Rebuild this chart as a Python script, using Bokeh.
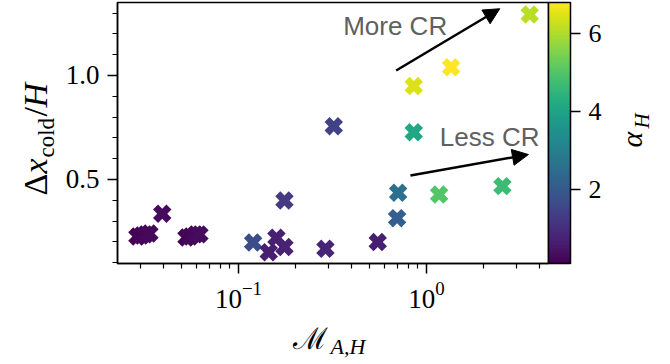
from math import pi

from bokeh.embed import file_html
from bokeh.layouts import column, row
from bokeh.models import (Arrow, ColorBar, ColumnDataSource, FixedTicker, Label,
                          LinearColorMapper, LogTickFormatter, NormalHead,
                          PrintfTickFormatter, Range1d)
from bokeh.palettes import Viridis256
from bokeh.plotting import figure
from bokeh.resources import INLINE

# Alfven Mach number at the cold-layer scale height
mach = [0.0290, 0.0305, 0.0320, 0.0336, 0.0393, 0.0529, 0.0555, 0.0591, 0.0620,
        0.1197, 0.1449, 0.1592, 0.1757, 0.1757, 0.2902, 0.3213, 0.5507, 0.698,
        0.707, 0.856, 0.856, 1.168, 1.353, 2.537, 3.543]
# cold-layer thickness in units of H
dx_cold = [0.226, 0.231, 0.236, 0.240, 0.335, 0.221, 0.226, 0.236, 0.236,
           0.197, 0.150, 0.220, 0.175, 0.399, 0.167, 0.756, 0.199, 0.314,
           0.436, 0.727, 0.949, 0.428, 1.040, 0.468, 1.293]
# alpha_H of each run (colour)
alpha_h = [0.10, 0.15, 0.20, 0.25, 0.30, 0.15, 0.20, 0.25, 0.30, 1.70, 0.65,
           0.70, 0.75, 1.20, 0.80, 1.40, 0.65, 2.10, 2.60, 4.10, 6.45, 5.00,
           6.80, 4.70, 6.10]

y_major = [0.5, 1.0]
y_minor = [0.1, 0.2, 0.3, 0.4, 0.6, 0.7, 0.8, 0.9, 1.1, 1.2, 1.3]
x_major = [0.1, 1.0]
x_minor = [0.03, 0.04, 0.05, 0.06, 0.07, 0.08, 0.09,
           0.2, 0.3, 0.4, 0.5, 0.6, 0.7, 0.8, 0.9, 2.0, 3.0, 4.0]
cbar_ticks = [2, 4, 6]

# annotation arrows: (x_start, y_start, x_end, y_end)
arrow_more = (0.690, 1.024, 2.455, 1.321)
arrow_less = (0.822, 0.519, 3.488, 0.620)
text_more = (0.3605, 1.240, "More CR")
text_less = (1.177, 0.703, "Less CR")

W, H = 670, 364
LEFT_W, RIGHT_W, BOTTOM_H = 60, 55, 46      # strips that carry the axis titles
MAIN_W, MAIN_H = W - LEFT_W - RIGHT_W, H - BOTTOM_H
FL, FR, FT, FB = 117, 548, 2, 263           # plotting frame on the page
SERIF = "Liberation Serif"
BASELINE_SHIFT = 0.4                        # alphabetic anchor correction (em)

p = figure(width=MAIN_W, height=MAIN_H, x_axis_type="log",
           x_range=(0.02272, 4.46), y_range=(0.096, 1.351),
           output_backend="svg", toolbar_location=None, title=None,
           min_border_left=FL - LEFT_W, min_border_right=LEFT_W + MAIN_W - FR,
           min_border_top=FT, min_border_bottom=MAIN_H - FB)
p.grid.visible = False
p.outline_line_color = "black"
p.outline_line_width = 1.5
p.outline_line_alpha = 1.0
p.background_fill_color = "white"
p.border_fill_color = "white"

p.yaxis.ticker = FixedTicker(ticks=y_major, minor_ticks=y_minor)
p.yaxis.formatter = PrintfTickFormatter(format="%.1f")
p.xaxis.ticker = FixedTicker(ticks=x_major, minor_ticks=x_minor)
p.xaxis.formatter = LogTickFormatter()

for ax in (p.xaxis[0], p.yaxis[0]):
    ax.axis_line_color = "black"
    ax.axis_line_width = 1.5
    ax.major_tick_in = 0
    ax.major_tick_out = 10
    ax.minor_tick_in = 0
    ax.minor_tick_out = 5
    ax.major_tick_line_color = "black"
    ax.minor_tick_line_color = "black"
    ax.major_tick_line_width = 1.5
    ax.minor_tick_line_width = 1.2
    ax.major_label_text_font = SERIF
    ax.major_label_text_font_size = "27px"
    ax.major_label_text_color = "black"
    ax.major_label_standoff = 8

mapper = LinearColorMapper(palette=Viridis256, low=min(alpha_h), high=max(alpha_h))

src = ColumnDataSource(dict(mach=mach, dx=dx_cold, alpha=alpha_h))
p.scatter(x="mach", y="dx", source=src, marker="plus", angle=pi / 4, size=19,
          fill_color={"field": "alpha", "transform": mapper}, line_color=None)

for (x0, y0, x1, y1) in (arrow_more, arrow_less):
    p.add_layout(Arrow(end=NormalHead(size=16, fill_color="black", line_color="black"),
                       x_start=x0, y_start=y0, x_end=x1, y_end=y1,
                       line_color="black", line_width=2.5))

for (tx, ty, tt) in (text_more, text_less):
    p.add_layout(Label(x=tx, y=ty, text=tt, text_font="Liberation Sans",
                       text_font_size="26px", text_color="#606060",
                       text_align="left", text_baseline="alphabetic"))

cb = ColorBar(color_mapper=mapper, width=22, height=FB - FT, location="top_left",
              padding=0, margin=0, ticker=FixedTicker(ticks=cbar_ticks),
              major_tick_in=0, major_tick_out=10, major_tick_line_color="black",
              major_tick_line_width=1.5, minor_tick_line_color=None,
              bar_line_color="black", bar_line_width=1.5, border_line_color=None,
              background_fill_color=None, label_standoff=8,
              major_label_text_font=SERIF, major_label_text_font_size="26px",
              major_label_text_color="black")
p.add_layout(cb, "right")


def title_strip(x0, x1, y0, y1, top=0, bottom=0):
    """Blank strip whose coordinates are page pixels (y grows downward).

    `top`/`bottom` are the page rows of its inner frame; side strips share
    the frame rows of the main plot so that the row lines them up.
    """
    f = figure(width=x1 - x0, height=y1 - y0, x_range=Range1d(x0, x1),
               y_range=Range1d(y1 - bottom, y0 + top), output_backend="svg",
               toolbar_location=None, title=None, min_border=0,
               min_border_top=top, min_border_bottom=bottom,
               x_axis_location=None, y_axis_location=None)
    f.grid.visible = False
    f.outline_line_color = None
    f.background_fill_color = "white"
    f.border_fill_color = "white"
    return f


def piece(f, px, py, text, size, style="normal", vertical=False, font=SERIF):
    """Text piece whose baseline starts at page point (px, py)."""
    shift = BASELINE_SHIFT * size
    if vertical:
        x, y, angle = px - shift, py, pi / 2
    else:
        x, y, angle = px, py - shift, 0.0
    f.add_layout(Label(x=x, y=y, text=text, angle=angle, text_font=font,
                       text_font_size=f"{size}px", text_font_style=style,
                       text_color="black", text_align="left",
                       text_baseline="alphabetic"))


left = title_strip(0, LEFT_W, 0, MAIN_H, top=FT, bottom=MAIN_H - FB)
right = title_strip(LEFT_W + MAIN_W, W, 0, MAIN_H, top=FT, bottom=MAIN_H - FB)
bottom = title_strip(0, W, MAIN_H, H)

# y-axis title:  Δx_cold / H  (reads bottom to top)
for (px, py, t, s, st) in [(49, 195, "Δ", 34, "normal"),
                           (49, 173, "x", 34, "italic"),
                           (55, 157, "cold", 23, "normal"),
                           (49, 116, "/", 34, "normal"),
                           (49, 107, "H", 34, "italic")]:
    piece(left, px, py, t, s, st, vertical=True)

# colour-bar title:  α_H
piece(right, 643, 147, "α", 30, "italic", vertical=True)
piece(right, 650, 128, "H", 21, "italic", vertical=True)

# x-axis title:  ℳ_{A,H}
piece(bottom, 292, 350, "ℳ", 30, "normal", font="DejaVu Serif")
piece(bottom, 330, 355, "A,H", 22, "italic")

layout = column(row(left, p, right, spacing=0), bottom, spacing=0)
open("out.html", "w").write(file_html(layout, INLINE))
